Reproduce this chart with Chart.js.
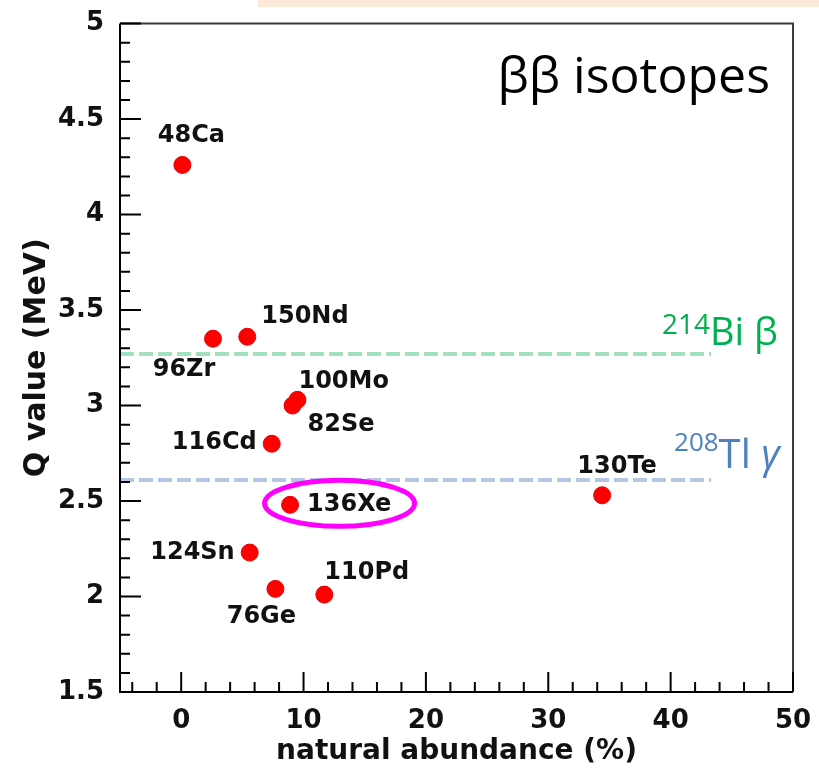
<!DOCTYPE html>
<html lang="en">
<head>
  <meta charset="UTF-8">
  <title>ββ isotopes</title>
  <script src="https://cdn.jsdelivr.net/npm/chart.js"></script>
  <style>
    body { margin: 0; background: #fff; }
    #wrap { width: 819px; height: 769px; }
  </style>
</head>
<body>
  <div id="wrap"><canvas id="qChart" width="819" height="769"></canvas></div>

  <script>
    // double beta candidates: natural abundance (%) vs Q value (MeV)
    const isotopes  = ['48Ca', '96Zr', '150Nd', '100Mo', '82Se', '116Cd', '136Xe', '124Sn', '76Ge', '110Pd', '130Te'];
    const abundance = [0.1, 2.6, 5.4, 9.5, 9.1, 7.4, 8.9, 5.6, 7.7, 11.7, 34.4];
    const qValue    = [4.26, 3.35, 3.36, 3.03, 3.00, 2.80, 2.48, 2.23, 2.04, 2.01, 2.53];

    // background lines: mass number, element, particle
    const bgNames  = [['214', 'Bi ', 'β'], ['208', 'Tl ', 'γ']];
    const bgEnergy = [3.27, 2.61];
    const bgRange  = [-5, 43.3];

    const xTicks = [0, 10, 20, 30, 40, 50];
    const yTicks = [1.5, 2, 2.5, 3, 3.5, 4, 4.5, 5];

    // label placement next to each marker: dx, dy, align
    const labelPos = [
      [9, -29, 'center'], [-29, 31, 'center'], [14, -20, 'left'], [1, -18, 'left'],
      [15, 19, 'left'], [-15, -1, 'right'], [17, 0, 'left'], [-15, 0, 'right'],
      [-14, 28, 'center'], [0, -22, 'left'], [15, -29, 'center']
    ];
    const highlight = '136Xe';

    const boldFont = size => ({ family: 'DejaVu Sans', weight: 'bold', size: size });

    const overlay = {
      id: 'overlay',
      beforeDraw(chart) {
        const ctx = chart.ctx;
        ctx.save();
        ctx.fillStyle = '#fde9d9';
        ctx.fillRect(258, 0, 561, 7);
        ctx.restore();
      },
      afterDraw(chart) {
        const ctx = chart.ctx;
        const { left, right, top, bottom } = chart.chartArea;
        const xs = chart.scales.x, ys = chart.scales.y;
        ctx.save();

        // frame
        ctx.lineWidth = 2;
        ctx.strokeStyle = '#3a3a3a';
        ctx.beginPath();
        ctx.moveTo(left, top); ctx.lineTo(right, top); ctx.lineTo(right, bottom);
        ctx.stroke();
        ctx.strokeStyle = '#000';
        ctx.beginPath();
        ctx.moveTo(left, top); ctx.lineTo(left, bottom); ctx.lineTo(right, bottom);
        ctx.stroke();

        // inward ticks
        ctx.lineWidth = 2;
        ctx.beginPath();
        for (let i = 15; i <= 50; i++) {
          const y = ys.getPixelForValue(i / 10);
          const len = i % 5 === 0 ? 21 : 10;
          ctx.moveTo(left, y); ctx.lineTo(left + len, y);
        }
        for (let v = -4; v <= 50; v += 2) {
          const x = xs.getPixelForValue(v);
          const len = v % 10 === 0 ? 20 : 10;
          ctx.moveTo(x, bottom); ctx.lineTo(x, bottom - len);
        }
        ctx.stroke();

        // isotope labels
        ctx.fillStyle = '#111';
        ctx.font = 'bold 24px "DejaVu Sans"';
        ctx.textBaseline = 'middle';
        isotopes.forEach((name, i) => {
          const px = xs.getPixelForValue(abundance[i]);
          const py = ys.getPixelForValue(qValue[i]);
          const [dx, dy, align] = labelPos[i];
          ctx.textAlign = align;
          ctx.fillText(name, px + dx, py + dy);
          if (name === highlight) {
            ctx.strokeStyle = '#ff00ff';
            ctx.lineWidth = 5;
            ctx.beginPath();
            ctx.ellipse(px + 49.5, py - 1.5, 75, 23, 0, 0, Math.PI * 2);
            ctx.stroke();
          }
        });

        // heading
        ctx.fillStyle = '#000';
        ctx.font = '50px "Open Sans"';
        ctx.textAlign = 'right';
        ctx.textBaseline = 'alphabetic';
        ctx.fillText('ββ isotopes', 770, 93);

        // background line names
        const bgColors = ['#00b050', '#4f81bd'];
        const bgShift = [[-49, -20, -9, 28, 38, ''], [-37, -29, -12, 26, 40, 'italic ']];
        bgNames.forEach((parts, i) => {
          const ex = xs.getPixelForValue(bgRange[1]);
          const ey = ys.getPixelForValue(bgEnergy[i]);
          const [dx, supY, mainY, supSize, mainSize, greekStyle] = bgShift[i];
          ctx.fillStyle = bgColors[i];
          ctx.textAlign = 'left';
          let x = ex + dx;
          ctx.font = supSize + 'px "Open Sans"';
          ctx.fillText(parts[0], x, ey + supY);
          x += ctx.measureText(parts[0]).width;
          ctx.font = mainSize + 'px "Open Sans"';
          ctx.fillText(parts[1], x, ey + mainY);
          x += ctx.measureText(parts[1]).width;
          ctx.font = greekStyle + mainSize + 'px "Open Sans"';
          ctx.fillText(parts[2], x, ey + mainY);
        });

        ctx.restore();
      }
    };

    const bgLine = (i, color) => ({
      type: 'line',
      data: bgRange.map(x => ({ x: x, y: bgEnergy[i] })),
      borderColor: color,
      borderWidth: 4,
      borderDash: [14, 5],
      pointRadius: 0,
      order: 2
    });

    new Chart(document.getElementById('qChart'), {
      type: 'scatter',
      data: {
        datasets: [
          bgLine(0, '#a3e0bf'),
          bgLine(1, '#b3c7e3'),
          {
            data: abundance.map((x, i) => ({ x: x, y: qValue[i] })),
            backgroundColor: '#ff0000',
            borderColor: '#e60000',
            borderWidth: 1,
            pointRadius: 8.5,
            order: 1
          }
        ]
      },
      options: {
        responsive: false,
        animation: false,
        layout: { padding: { top: 19, right: 26, left: 0, bottom: 0 } },
        plugins: { legend: { display: false }, tooltip: { enabled: false } },
        scales: {
          x: {
            type: 'linear', min: -5, max: 50,
            afterBuildTicks: s => { s.ticks = xTicks.map(v => ({ value: v })); },
            afterFit: s => { s.height = 77; },
            grid: { display: false },
            border: { display: false },
            ticks: { font: boldFont(26), color: '#111', padding: 6, maxRotation: 0, autoSkip: false },
            title: { display: true, text: 'natural abundance (%)', font: boldFont(28), color: '#111', padding: { top: 0, bottom: 0 } }
          },
          y: {
            type: 'linear', min: 1.5, max: 5,
            afterBuildTicks: s => { s.ticks = yTicks.map(v => ({ value: v })); },
            afterFit: s => { s.width = 120; },
            grid: { display: false },
            border: { display: false },
            ticks: { font: boldFont(26), color: '#111', padding: 8, autoSkip: false, callback: v => String(v) },
            title: { display: true, text: 'Q value (MeV)', font: boldFont(30), color: '#111', padding: { top: 19, bottom: 0 } }
          }
        }
      },
      plugins: [overlay]
    });
  </script>
</body>
</html>
